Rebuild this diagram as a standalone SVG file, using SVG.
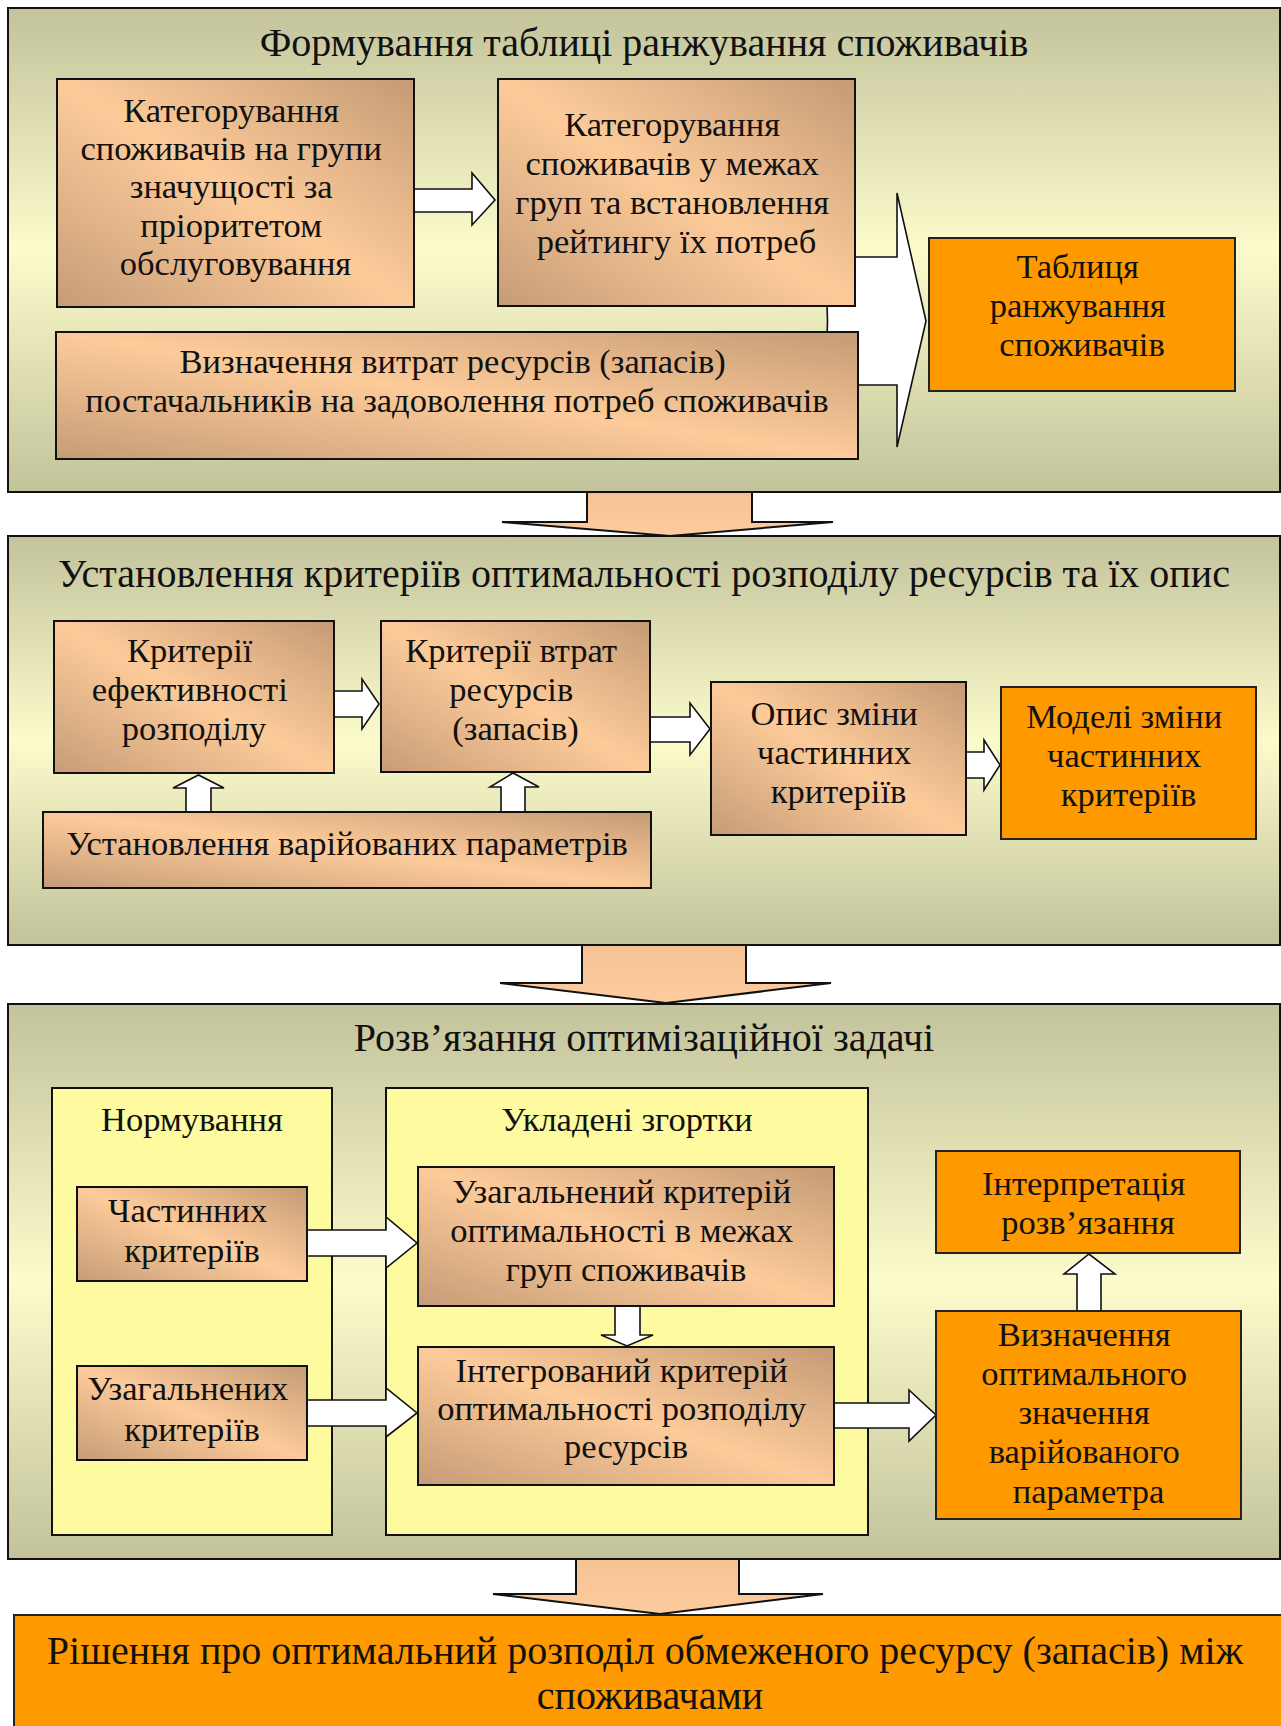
<svg xmlns="http://www.w3.org/2000/svg" width="1281" height="1726" viewBox="0 0 1281 1726" font-family="Liberation Serif, Times New Roman, serif">
  <defs>
    <linearGradient id="panelFill" x1="0" y1="0" x2="0" y2="1">
      <stop offset="0" stop-color="#C3C39C"/>
      <stop offset="0.5" stop-color="#FCFBCB"/>
      <stop offset="1" stop-color="#C3C39B"/>
    </linearGradient>
    <linearGradient id="peachFill" x1="1" y1="0" x2="0" y2="1">
      <stop offset="0" stop-color="#C59B75"/>
      <stop offset="0.5" stop-color="#FDCB9A"/>
      <stop offset="1" stop-color="#C69C77"/>
    </linearGradient>
    <linearGradient id="flowFill" x1="0" y1="0" x2="0" y2="1">
      <stop offset="0" stop-color="#F6C293"/>
      <stop offset="1" stop-color="#FCCC9F"/>
    </linearGradient>
  </defs>
  <style>
    .panel { fill: url(#panelFill); stroke: #111; stroke-width: 2; }
    .group { fill: #FDFA9F; stroke: #111; stroke-width: 2; }
    .peach { fill: url(#peachFill); stroke: #111; stroke-width: 2; }
    .orange { fill: #FF9900; stroke: #222; stroke-width: 2; }
    .blk { fill: #FFFFFF; stroke: #111; stroke-width: 1.6; stroke-linejoin: miter; }
    .flow { fill: url(#flowFill); stroke: #111; stroke-width: 2; }
    text { fill: #111; text-anchor: middle; }
    .title { font-size: 40px; }
    .lbl { font-size: 34.5px; }
    .big { font-size: 40px; }
  </style>

  <rect width="1281" height="1726" fill="#FFFFFF"/>

  <!-- stage panels -->
  <g id="stage-ranking">
    <rect class="panel" x="8" y="8" width="1272" height="484"/>
    <text class="title" x="644" y="56">Формування таблиці ранжування споживачів</text>
  </g>
  <g id="stage-criteria">
    <rect class="panel" x="8" y="536" width="1272" height="409"/>
    <text class="title" x="644" y="587">Установлення критеріїв оптимальності розподілу ресурсів та їх опис</text>
  </g>
  <g id="stage-solve">
    <rect class="panel" x="8" y="1004" width="1272" height="555"/>
    <text class="title" x="644" y="1051">Розв’язання оптимізаційної задачі</text>
  </g>

  <!-- grouping frames inside the solving stage -->
  <g id="grp-normalize">
    <rect class="group" x="52" y="1088" width="280" height="447"/>
    <text class="lbl" x="192" y="1131">Нормування</text>
  </g>
  <g id="grp-folds">
    <rect class="group" x="386" y="1088" width="482" height="447"/>
    <text class="lbl" x="627" y="1131">Укладені згортки</text>
  </g>

  <!-- connectors -->
  <g id="connectors">
    <!-- wide merge arrow into the ranking table -->
    <path class="blk" d="M820 257 L897 257 L897 193 L926 321 L897 447 L897 385 L820 385 Q835 321 820 257 Z"/>
    <!-- A -> B -->
    <polygon class="blk" points="414,189 472,189 472,173 495,200 472,225 472,212 414,212"/>
    <!-- E -> F -->
    <polygon class="blk" points="334,691 362,691 362,679 379,704 362,729 362,717 334,717"/>
    <!-- F -> G -->
    <polygon class="blk" points="650,717 690,717 690,703 710,729 690,755 690,742 650,742"/>
    <!-- G -> H -->
    <polygon class="blk" points="966,752 984,752 984,740 1000,765 984,790 984,778 966,778"/>
    <!-- I -> E, I -> F -->
    <polygon class="blk" points="186,812 186,788 173,788 198.5,775 224,788 211,788 211,812"/>
    <polygon class="blk" points="501,812 501,787 490,787 513,773 539,787 525,787 525,812"/>
    <!-- L -> N, M -> O -->
    <polygon class="blk" points="307,1230 386,1230 386,1217 417,1243 386,1268 386,1256 307,1256"/>
    <polygon class="blk" points="307,1400 386,1400 386,1388 417,1413 386,1437 386,1426 307,1426"/>
    <!-- N -> O -->
    <polygon class="blk" points="615,1306 640,1306 640,1335 653,1335 627,1346 601,1335 615,1335"/>
    <!-- O -> Q -->
    <polygon class="blk" points="834,1403 909,1403 909,1390 936,1415 909,1441 909,1428 834,1428"/>
    <!-- Q -> P -->
    <polygon class="blk" points="1077,1311 1077,1274 1064,1274 1089,1254 1115,1274 1101,1274 1101,1311"/>
    <!-- flow between stages -->
    <polygon class="flow" points="587,492 752,492 752,522 833,522 670,536 502,522 587,522"/>
    <polygon class="flow" points="582,945 746,945 746,983 831,983 666,1003 500,983 582,983"/>
    <polygon class="flow" points="576,1559 739,1559 739,1594 823,1594 660,1614 493,1594 576,1594"/>
  </g>

  <!-- stage 1 nodes -->
  <g id="n-groups">
    <rect class="peach" x="57" y="79" width="357" height="228"/>
    <text class="lbl">
      <tspan x="235.5" y="122">Категорування</tspan>
      <tspan x="235.5" y="160">споживачів на групи</tspan>
      <tspan x="235.5" y="198">значущості за</tspan>
      <tspan x="235.5" y="237">пріоритетом</tspan>
      <tspan x="235.5" y="275">обслуговування</tspan>
    </text>
  </g>
  <g id="n-rating">
    <rect class="peach" x="498" y="79" width="357" height="227"/>
    <text class="lbl">
      <tspan x="676.5" y="136">Категорування</tspan>
      <tspan x="676.5" y="175">споживачів у межах</tspan>
      <tspan x="676.5" y="214">груп та встановлення</tspan>
      <tspan x="676.5" y="253">рейтингу їх потреб</tspan>
    </text>
  </g>
  <g id="n-costs">
    <rect class="peach" x="56" y="332" width="802" height="127"/>
    <text class="lbl">
      <tspan x="457" y="373">Визначення витрат ресурсів (запасів)</tspan>
      <tspan x="457" y="412">постачальників на задоволення потреб споживачів</tspan>
    </text>
  </g>
  <g id="n-table">
    <rect class="orange" x="929" y="238" width="306" height="153"/>
    <text class="lbl">
      <tspan x="1082" y="278">Таблиця</tspan>
      <tspan x="1082" y="317">ранжування</tspan>
      <tspan x="1082" y="356">споживачів</tspan>
    </text>
  </g>

  <!-- stage 2 nodes -->
  <g id="n-efficiency">
    <rect class="peach" x="54" y="621" width="280" height="152"/>
    <text class="lbl">
      <tspan x="194" y="662">Критерії</tspan>
      <tspan x="194" y="701">ефективності</tspan>
      <tspan x="194" y="740">розподілу</tspan>
    </text>
  </g>
  <g id="n-losses">
    <rect class="peach" x="381" y="621" width="269" height="151"/>
    <text class="lbl">
      <tspan x="515.5" y="662">Критерії втрат</tspan>
      <tspan x="515.5" y="701">ресурсів</tspan>
      <tspan x="515.5" y="740">(запасів)</tspan>
    </text>
  </g>
  <g id="n-describe">
    <rect class="peach" x="711" y="682" width="255" height="153"/>
    <text class="lbl">
      <tspan x="838.5" y="725">Опис зміни</tspan>
      <tspan x="838.5" y="764">частинних</tspan>
      <tspan x="838.5" y="803">критеріїв</tspan>
    </text>
  </g>
  <g id="n-models">
    <rect class="orange" x="1001" y="687" width="255" height="152"/>
    <text class="lbl">
      <tspan x="1128.5" y="728">Моделі зміни</tspan>
      <tspan x="1128.5" y="767">частинних</tspan>
      <tspan x="1128.5" y="806">критеріїв</tspan>
    </text>
  </g>
  <g id="n-params">
    <rect class="peach" x="43" y="812" width="608" height="76"/>
    <text class="lbl" x="347" y="855">Установлення варійованих параметрів</text>
  </g>

  <!-- stage 3 nodes -->
  <g id="n-partial">
    <rect class="peach" x="77" y="1187" width="230" height="94"/>
    <text class="lbl">
      <tspan x="192" y="1222">Частинних</tspan>
      <tspan x="192" y="1262">критеріїв</tspan>
    </text>
  </g>
  <g id="n-general">
    <rect class="peach" x="77" y="1366" width="230" height="94"/>
    <text class="lbl">
      <tspan x="192" y="1400">Узагальнених</tspan>
      <tspan x="192" y="1441">критеріїв</tspan>
    </text>
  </g>
  <g id="n-group-criterion">
    <rect class="peach" x="418" y="1167" width="416" height="139"/>
    <text class="lbl">
      <tspan x="626" y="1203">Узагальнений критерій</tspan>
      <tspan x="626" y="1242">оптимальності в межах</tspan>
      <tspan x="626" y="1281">груп споживачів</tspan>
    </text>
  </g>
  <g id="n-integral">
    <rect class="peach" x="418" y="1347" width="416" height="138"/>
    <text class="lbl">
      <tspan x="626" y="1382">Інтегрований критерій</tspan>
      <tspan x="626" y="1420">оптимальності розподілу</tspan>
      <tspan x="626" y="1458">ресурсів</tspan>
    </text>
  </g>
  <g id="n-interpret">
    <rect class="orange" x="936" y="1151" width="304" height="102"/>
    <text class="lbl">
      <tspan x="1088" y="1195">Інтерпретація</tspan>
      <tspan x="1088" y="1234">розв’язання</tspan>
    </text>
  </g>
  <g id="n-optimum">
    <rect class="orange" x="936" y="1311" width="305" height="208"/>
    <text class="lbl">
      <tspan x="1088.5" y="1346">Визначення</tspan>
      <tspan x="1088.5" y="1385">оптимального</tspan>
      <tspan x="1088.5" y="1424">значення</tspan>
      <tspan x="1088.5" y="1463">варійованого</tspan>
      <tspan x="1088.5" y="1503">параметра</tspan>
    </text>
  </g>

  <!-- final decision -->
  <g id="n-decision">
    <rect class="orange" x="14" y="1615" width="1280" height="120"/>
    <text class="big">
      <tspan x="650" y="1664">Рішення про оптимальний розподіл обмеженого ресурсу (запасів) між</tspan>
      <tspan x="650" y="1709">споживачами</tspan>
    </text>
  </g>
</svg>
